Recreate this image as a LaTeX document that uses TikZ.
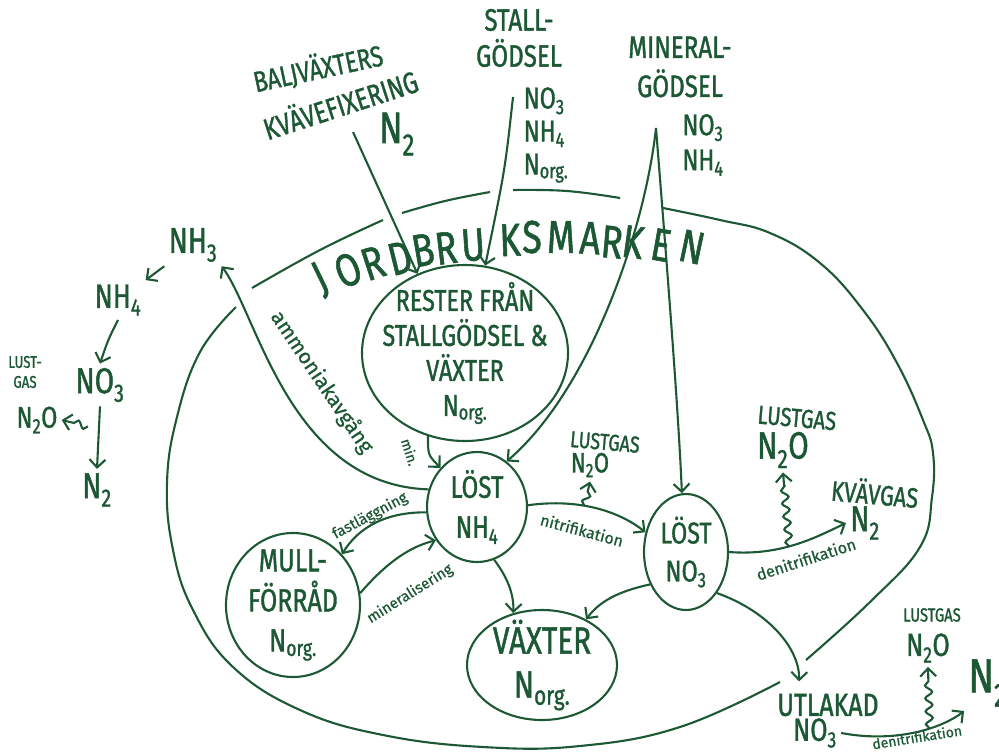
\documentclass[tikz,border=0pt]{standalone}
\usepackage{fontspec}
\setmainfont[FakeStretch=0.78,FakeBold=1.2]{Fira Sans}
\newfontfamily\smallhand[FakeBold=0.6]{Fira Sans}
\usetikzlibrary{shapes.geometric,arrows.meta,decorations.pathmorphing}
\definecolor{penna}{RGB}{28,88,52}
\newcommand{\hand}[2]{\fontsize{#1}{#2}\selectfont}
\begin{document}
\begin{tikzpicture}[x=1pt,y=-1pt,color=penna,line width=2.1pt,
    >={Straight Barb[length=8pt,width=16pt]},
    pool/.style={draw,ellipse,inner sep=-25pt,align=center},
    flow/.style={->},
    snakearrow/.style={->,decorate,decoration={snake,amplitude=3.5pt,segment length=13pt,post length=8pt}},
    lbl/.style={font=\smallhand\fontsize{#1}{#1}\selectfont,inner sep=0pt}]
  \useasboundingbox (0,0) rectangle (999,753);

  % the field, drawn round with gaps where the flows cross it
  \draw plot[smooth,tension=0.7] coordinates {(236,307) (200,352) (177,417) (167,483) (173,550) (193,610)
    (233,667) (300,710) (383,735) (483,747) (580,746) (680,727) (780,682)};
  \draw plot[smooth,tension=0.7] coordinates {(806,660) (870,602) (920,547) (932,497) (933,453) (923,420)
    (897,363) (863,310) (820,263) (770,233) (720,220) (663,208)};
  \draw plot[smooth,tension=0.7] coordinates {(620,198) (567,191) (513,190)};
  \draw plot[smooth,tension=0.7] coordinates {(490,192) (445,201) (402,213)};
  \draw plot[smooth,tension=0.7] coordinates {(383,220) (320,250) (252,288)};
  \foreach \ch/\px/\py/\rot [count=\k] in {J/321/280/26, O/348/270/22, R/373/263/18, D/400/258/14,
      B/423/250/10, R/446/248/7, U/473/245/4, K/510/240/2, S/532/237/0, M/561/237/0,
      A/590/238/-3, R/612/242/-5, K/633/242/-8, E/661/245/-10, N/692/247/-12}
    \node[font=\hand{46}{46},rotate=\rot] (jb\k) at (\px,\py) {\ch};

  % stores in the soil
  \node[pool,minimum width=206pt,minimum height=176pt,font=\hand{30}{35}] (rester) at (465,353)
    {RESTER FRÅN\\STALLGÖDSEL \&\\VÄXTER\\N\textsubscript{org.}};
  \node[pool,minimum width=100pt,minimum height=110pt,font=\hand{31}{40}] (nh4) at (477,507)
    {LÖST\\NH\textsubscript{4}};
  \node[pool,minimum width=134pt,minimum height=144pt,font=\hand{32}{40}] (mull) at (293,605)
    {MULL-\\FÖRRÅD\\N\textsubscript{org.}};
  \node[pool,minimum width=150pt,minimum height=110pt,font=\hand{38}{44}] (vaxter) at (542,665)
    {VÄXTER\\N\textsubscript{org.}};
  \node[pool,minimum width=84pt,minimum height=116pt,font=\hand{30}{38}] (no3) at (686,552)
    {LÖST\\NO\textsubscript{3}};

  % what is added from above
  \node[font=\hand{29}{29},rotate=12] (baljtxt) at (318,68) {BALJVÄXTERS};
  \node[font=\hand{30}{30},rotate=18] (kvavefix) at (340,103) {KVÄVEFIXERING};
  \node[font=\hand{44}{44}] (baljn2) at (397,134) {N\textsubscript{2}};
  \node[font=\hand{31}{36},align=center] (stallgodsel) at (519,38) {STALL-\\GÖDSEL};
  \node[font=\hand{30}{33},align=left] (stallamnen) at (546,135)
    {NO\textsubscript{3}\\NH\textsubscript{4}\\N\textsubscript{org.}};
  \node[font=\hand{31}{39},align=center] (mineralgodsel) at (680,67) {MINERAL-\\GÖDSEL};
  \node[font=\hand{30}{35},align=left] (mineralamnen) at (703,145) {NO\textsubscript{3}\\NH\textsubscript{4}};
  \coordinate (balj) at (353,132);
  \coordinate (stall) at (513,97);
  \coordinate (mineral) at (656,128);

  % gases and losses
  \node[font=\hand{23}{23},rotate=-5] (lustmid) at (605,442) {LUSTGAS};
  \node[font=\hand{28}{28}] (lustn2o) at (590,465) {N\textsubscript{2}O};
  \node[font=\hand{26}{26},rotate=-5] (lustright) at (797,418) {LUSTGAS};
  \node[font=\hand{38}{38}] (n2oright) at (783,450) {N\textsubscript{2}O};
  \node[font=\hand{28}{28},rotate=-5] (kvavgas) at (875,492) {KVÄVGAS};
  \node[font=\hand{36}{36}] (kvavn2) at (865,523) {N\textsubscript{2}};
  \node[font=\hand{32}{32}] (utlakad) at (828,705) {UTLAKAD};
  \node[font=\hand{32}{32}] (utno3) at (815,733) {NO\textsubscript{3}};
  \node[font=\hand{19}{19}] (lustbottom) at (932,615) {LUSTGAS};
  \node[font=\hand{32}{32}] (n2obottom) at (928,648) {N\textsubscript{2}O};
  \node[font=\hand{48}{48}] (n2out) at (988,683) {N\textsubscript{2}};

  % the air, left
  \node[font=\hand{36}{36}] (nh3) at (193,245) {NH\textsubscript{3}};
  \node[font=\hand{34}{34}] (nh4l) at (118,300) {NH\textsubscript{4}};
  \node[font=\hand{36}{36}] (no3l) at (100,385) {NO\textsubscript{3}};
  \node[font=\hand{17}{20},align=center] (lustl) at (25,372) {LUST-\\GAS};
  \node[font=\hand{30}{30}] (n2ol) at (37,420) {N\textsubscript{2}O};
  \node[font=\hand{36}{36}] (n2l) at (97,490) {N\textsubscript{2}};

  % inflows
  \draw[flow] (balj) -- (rester.121);
  \draw[flow] (stall) .. controls (505,170) .. (rester.77);
  \draw[flow] (mineral) .. controls (645,230) and (590,390) .. (nh4.57);
  \draw[flow] (mineral) .. controls (664,230) and (678,400) .. (no3.94);

  % turnover in the soil
  \draw[flow] (rester.246) .. controls (428,455) .. (nh4.133);
  \draw[flow] (nh4.160) .. controls (290,485) and (258,316) .. (nh3.south east);
  \draw[flow] (nh4.186) .. controls (385,512) and (358,528) .. (mull.46);
  \draw[flow] (mull.10) .. controls (382,568) and (405,548) .. (nh4.219);
  \draw[flow] (nh4.288) .. controls (508,578) and (514,595) .. (vaxter.119);
  \draw[flow] (nh4.2) .. controls (580,498) and (620,512) .. (no3.154) coordinate[pos=0.4] (nitri);
  \draw[flow] (no3.222) .. controls (625,590) and (602,598) .. (vaxter.46);
  \draw[flow] (no3.307) .. controls (770,612) and (800,650) .. ([shift={(26,-8)}]utlakad.north west);
  \draw[flow] (no3.0) .. controls (780,556) and (815,538) .. (kvavn2.west) coordinate[pos=0.45] (denitri);
  \draw[flow] (utno3.east) .. controls (900,744) and (945,726) .. (n2out.south west) coordinate[pos=0.6] (denitriut);
  \draw[snakearrow] (nitri) -- (lustn2o.south);
  \draw[snakearrow] (denitri) -- (n2oright.south);
  \draw[snakearrow] (denitriut) -- (n2obottom.south);

  % in the air
  \draw[flow] (nh3.south west) -- (nh4l.north east);
  \draw[flow] (nh4l.south) .. controls (108,340) .. (no3l.north);
  \draw[flow] (no3l.south) -- (n2l.north);
  \draw[snakearrow] ([xshift=-12pt,yshift=-20pt]no3l.south) -- (n2ol.east);

  % process names
  \node[lbl=21,rotate=-56] (ammlbl) at (322,382) {ammoniakavgång};
  \node[lbl=14,rotate=-72] (minlbl) at (410,452) {min.};
  \node[lbl=15,rotate=28] (fastlbl) at (370,516) {fastläggning};
  \node[lbl=15,rotate=32] (minerlbl) at (410,594) {mineralisering};
  \node[lbl=16,rotate=-15] (nitrilbl) at (582,530) {nitrifikation};
  \node[lbl=16,rotate=18] (denitrilbl) at (806,559) {denitrifikation};
  \node[lbl=14,rotate=9] (denitriutlbl) at (917,737) {denitrifikation};
\end{tikzpicture}
\end{document}
